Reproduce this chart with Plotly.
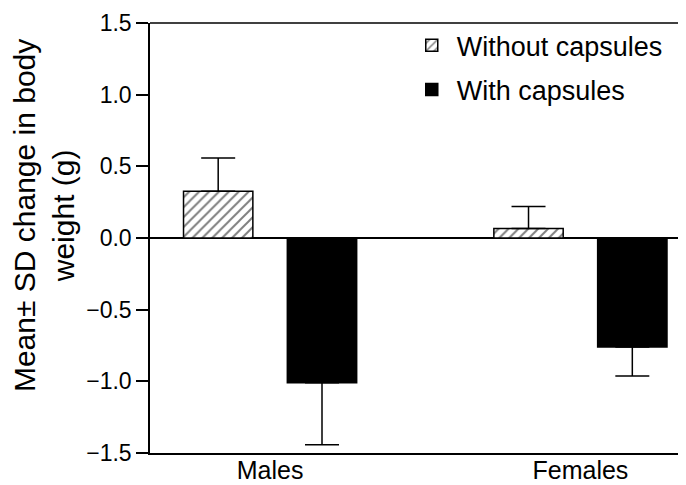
import plotly.graph_objects as go

categories = ["Males", "Females"]
without_mean = [0.326, 0.067]
without_sd = [0.233, 0.152]
with_mean = [-1.010, -0.760]
with_sd = [0.432, 0.203]
zeros = [0, 0]
series_names = ["Without capsules", "With capsules"]
y_ticks = [-1.5, -1.0, -0.5, 0.0, 0.5, 1.0, 1.5]
y_ticklabels = ["\u22121.5", "\u22121.0", "\u22120.5", "0.0", "0.5", "1.0", "1.5"]
y_title = "Mean\u00b1 SD change in body<br>weight (g)"

FONT = "Liberation Sans, Arial, sans-serif"

fig = go.Figure()
fig.add_trace(go.Bar(
    x=categories, y=without_mean, name=series_names[0], legendgroup="a",
    marker=dict(color="white", line=dict(color="black", width=1.5),
                pattern=dict(shape="/", fgcolor="black", bgcolor="white", size=7, solidity=0.28)),
    error_y=dict(type="data", symmetric=False, array=without_sd, arrayminus=zeros,
                 color="black", thickness=1.5, width=17),
))
fig.add_trace(go.Bar(
    x=categories, y=with_mean, name=series_names[1], legendgroup="b",
    marker=dict(color="black", line=dict(color="black", width=1.5)),
    error_y=dict(type="data", symmetric=False, array=zeros, arrayminus=with_sd,
                 color="black", thickness=1.5, width=17),
))

fig.update_layout(
    width=686, height=485,
    margin=dict(l=142, r=0, t=15, b=40, pad=0),
    paper_bgcolor="white", plot_bgcolor="white",
    barmode="group", bargap=0.331, bargroupgap=0.332,
    font=dict(family=FONT, color="black"),
    showlegend=True,
    legend=dict(x=0.472, y=1.004, xanchor="left", yanchor="top",
                font=dict(size=27, family=FONT, color="black"),
                bgcolor="rgba(0,0,0,0)", itemwidth=40, tracegroupgap=6,
                traceorder="grouped"),
    shapes=[dict(type="line", xref="paper", yref="paper", x0=0, x1=1, y0=1, y1=1,
                 line=dict(color="black", width=1.5))],
    annotations=[dict(text=y_title, textangle=-90, xref="paper", yref="paper",
                      x=0, y=0.551, xanchor="center", yanchor="middle",
                      xshift=-106, showarrow=False, align="center",
                      font=dict(size=30, family=FONT, color="black"))],
)
fig.update_xaxes(
    range=[-0.387, 1.366], showline=True, linecolor="black", linewidth=1.5,
    ticks="", showgrid=False, zeroline=False, automargin=False,
    ticklabelstandoff=-6,
    tickfont=dict(size=25, family=FONT, color="black"),
)
fig.update_yaxes(
    range=[-1.5, 1.5], tickvals=y_ticks, ticktext=y_ticklabels,
    showline=True, linecolor="black", linewidth=1.5, automargin=False,
    ticks="outside", ticklen=12, tickwidth=1.5, tickcolor="black",
    showgrid=False, zeroline=True, zerolinecolor="black", zerolinewidth=1.5,
    tickfont=dict(size=23, family=FONT, color="black"),
)

fig.write_html("out.html")
